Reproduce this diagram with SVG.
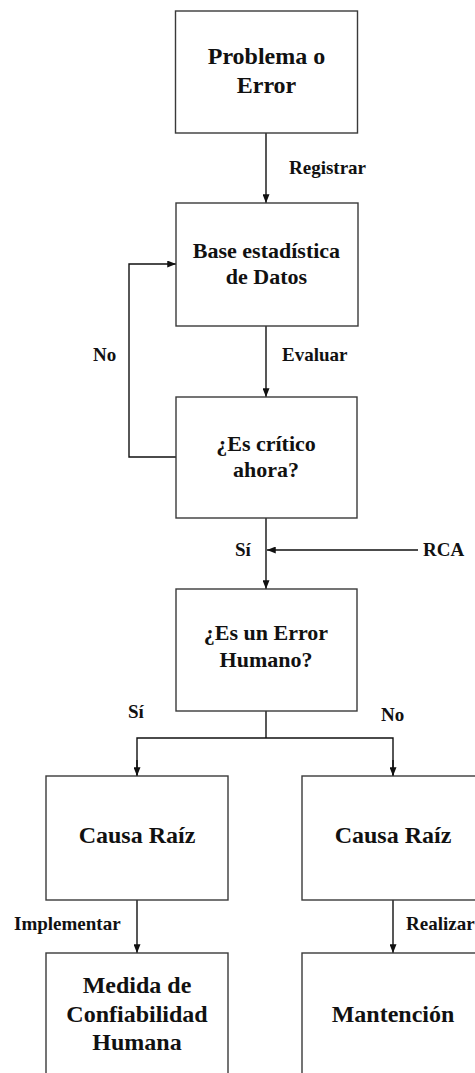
<svg xmlns="http://www.w3.org/2000/svg" width="475" height="1073" viewBox="0 0 475 1073">
<style>
.box{fill:#fff;stroke:#3a3a3a;stroke-width:1.4}
.t{font-family:"Liberation Serif","Times New Roman",serif;font-weight:bold;fill:#111;text-anchor:middle}
.big{font-size:24px}
.mid{font-size:22px}
.lbl{font-family:"Liberation Serif","Times New Roman",serif;font-weight:bold;fill:#111;font-size:19px}
.ln{fill:none;stroke:#111;stroke-width:1.4}
</style>
<defs>
<marker id="ah" viewBox="0 0 10 8" refX="10" refY="4" markerWidth="9" markerHeight="7" markerUnits="userSpaceOnUse" orient="auto">
<path d="M0,0 L10,4 L0,8 Z" fill="#111"/>
</marker>
</defs>
<rect width="475" height="1073" fill="#fff"/>
<g id="connectors">
<line class="ln" x1="266" y1="133" x2="266" y2="203" marker-end="url(#ah)"/>
<line class="ln" x1="266" y1="326" x2="266" y2="397" marker-end="url(#ah)"/>
<polyline class="ln" points="176,457 129,457 129,264 176,264" marker-end="url(#ah)"/>
<line class="ln" x1="266" y1="518" x2="266" y2="589" marker-end="url(#ah)"/>
<line class="ln" x1="418" y1="550" x2="267" y2="550" marker-end="url(#ah)"/>
<line class="ln" x1="266" y1="711" x2="266" y2="738"/>
<polyline class="ln" points="137,776 137,738 393,738 393,776"/>
<line class="ln" x1="137" y1="760" x2="137" y2="776" marker-end="url(#ah)"/>
<line class="ln" x1="393" y1="760" x2="393" y2="776" marker-end="url(#ah)"/>
<line class="ln" x1="137" y1="900" x2="137" y2="953" marker-end="url(#ah)"/>
<line class="ln" x1="393" y1="900" x2="393" y2="953" marker-end="url(#ah)"/>
<text class="lbl" x="289" y="174">Registrar</text>
<text class="lbl" x="282" y="361">Evaluar</text>
<text class="lbl" x="93" y="361">No</text>
<text class="lbl" x="235" y="556">Sí</text>
<text class="lbl" x="423" y="556">RCA</text>
<text class="lbl" x="128" y="718">Sí</text>
<text class="lbl" x="381" y="721">No</text>
<text class="lbl" x="14" y="930">Implementar</text>
<text class="lbl" x="406" y="930">Realizar</text>
</g>
<g id="n1">
<rect class="box" x="175.5" y="11" width="182" height="122"/>
<text class="t big" x="266.5" y="64">Problema o</text>
<text class="t big" x="266.5" y="93">Error</text>
</g>
<g id="n2">
<rect class="box" x="176" y="203" width="182" height="123"/>
<text class="t mid" x="266.5" y="258">Base estadística</text>
<text class="t mid" x="266.5" y="284">de Datos</text>
</g>
<g id="n3">
<rect class="box" x="176" y="397" width="181" height="121"/>
<text class="t mid" x="266" y="451">¿Es crítico</text>
<text class="t mid" x="266" y="477">ahora?</text>
</g>
<g id="n4">
<rect class="box" x="176" y="589" width="181" height="122"/>
<text class="t mid" x="266" y="640">¿Es un Error</text>
<text class="t mid" x="266" y="667">Humano?</text>
</g>
<g id="n5">
<rect class="box" x="46" y="776" width="182" height="124"/>
<text class="t big" x="137" y="843">Causa Raíz</text>
</g>
<g id="n6">
<rect class="box" x="302" y="776" width="182" height="124"/>
<text class="t big" x="393" y="843">Causa Raíz</text>
</g>
<g id="n7">
<rect class="box" x="46" y="953" width="182" height="130"/>
<text class="t big" x="137" y="993">Medida de</text>
<text class="t big" x="137" y="1022">Confiabilidad</text>
<text class="t big" x="137" y="1050">Humana</text>
</g>
<g id="n8">
<rect class="box" x="302" y="953" width="182" height="130"/>
<text class="t big" x="393" y="1022">Mantención</text>
</g>
</svg>
